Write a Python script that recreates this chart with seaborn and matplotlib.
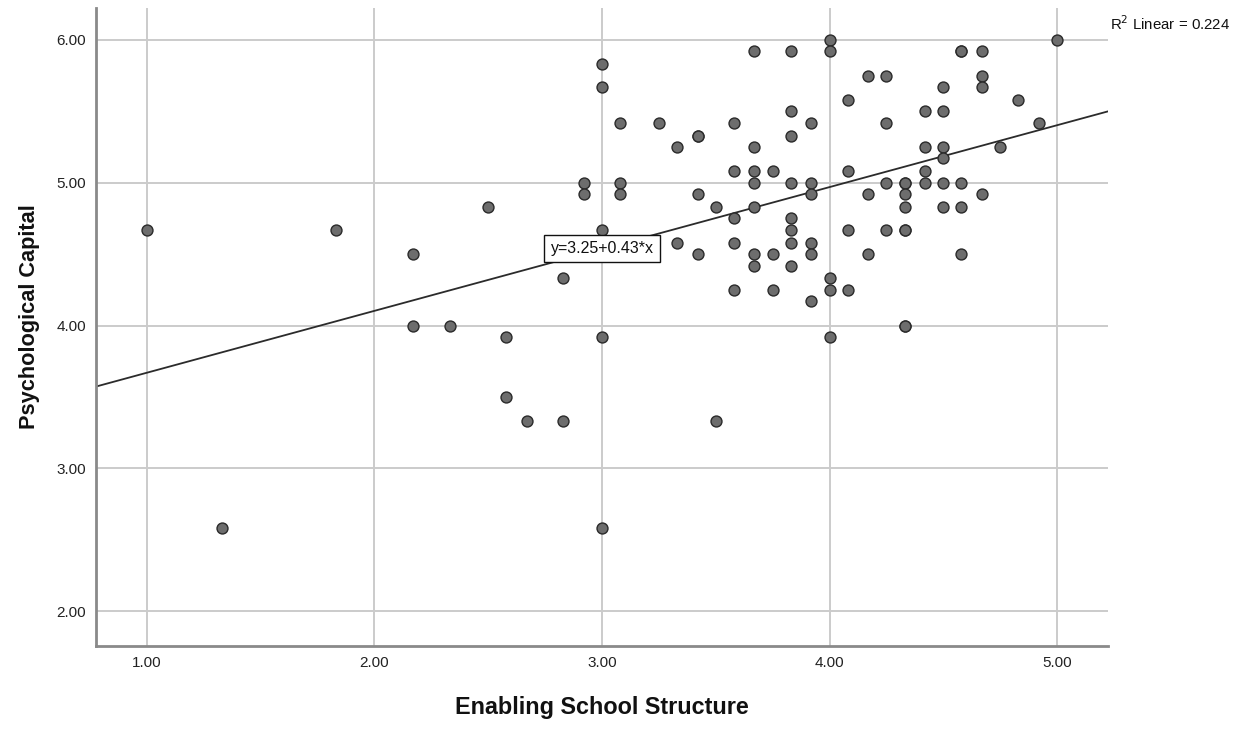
import numpy as np
import pandas as pd
import matplotlib
matplotlib.use("Agg")
import matplotlib.pyplot as plt
import seaborn as sns

# Enabling School Structure (x) and Psychological Capital (y)
ess = [1.00, 1.33, 1.83, 2.17, 2.17, 2.33, 2.50, 2.58, 2.58, 2.67, 2.83, 2.83,
       2.92, 2.92, 3.00, 3.00, 3.00, 3.00, 3.00, 3.08, 3.08, 3.08, 3.25, 3.33,
       3.33, 3.42, 3.42, 3.42, 3.42, 3.50, 3.50, 3.58, 3.58, 3.58, 3.58, 3.58,
       3.67, 3.67, 3.67, 3.67, 3.67, 3.67, 3.67, 3.75, 3.75, 3.75, 3.83, 3.83,
       3.83, 3.83, 3.83, 3.83, 3.83, 3.83, 3.92, 3.92, 3.92, 3.92, 3.92, 3.92,
       4.00, 4.00, 4.00, 4.00, 4.00, 4.08, 4.08, 4.08, 4.08, 4.17, 4.17, 4.17,
       4.25, 4.25, 4.25, 4.25, 4.33, 4.33, 4.33, 4.33, 4.33, 4.33, 4.33, 4.33,
       4.42, 4.42, 4.42, 4.42, 4.50, 4.50, 4.50, 4.50, 4.50, 4.50, 4.58, 4.58,
       4.58, 4.58, 4.58, 4.67, 4.67, 4.67, 4.67, 4.75, 4.83, 4.92, 5.00]
psycap = [4.67, 2.58, 4.67, 4.50, 4.00, 4.00, 4.83, 3.92, 3.50, 3.33, 4.33, 3.33,
          5.00, 4.92, 5.83, 5.67, 4.67, 3.92, 2.58, 5.42, 5.00, 4.92, 5.42, 5.25,
          4.58, 5.33, 5.33, 4.92, 4.50, 4.83, 3.33, 5.42, 5.08, 4.75, 4.58, 4.25,
          5.92, 5.25, 5.08, 5.00, 4.83, 4.50, 4.42, 5.08, 4.50, 4.25, 5.92, 5.50,
          5.33, 5.00, 4.75, 4.67, 4.58, 4.42, 5.42, 5.00, 4.92, 4.58, 4.50, 4.17,
          6.00, 5.92, 4.33, 4.25, 3.92, 5.58, 5.08, 4.67, 4.25, 5.75, 4.92, 4.50,
          5.75, 5.42, 5.00, 4.67, 5.00, 5.00, 4.92, 4.83, 4.67, 4.67, 4.00, 4.00,
          5.50, 5.25, 5.08, 5.00, 5.67, 5.50, 5.25, 5.17, 5.00, 4.83, 5.92, 5.92,
          5.00, 4.83, 4.50, 5.92, 5.75, 5.67, 4.92, 5.25, 5.58, 5.42, 6.00]

x_ticks = [1.0, 2.0, 3.0, 4.0, 5.0]
y_ticks = [2.0, 3.0, 4.0, 5.0, 6.0]
fit_label = "y=3.25+0.43*x"
r2_label = "R$^2$ Linear = 0.224"
intercept, slope = 3.25, 0.43

df = pd.DataFrame({"Enabling School Structure": ess, "Psychological Capital": psycap})

sns.set_theme(style="white")
plt.rcParams["font.family"] = ["Liberation Sans", "DejaVu Sans"]

fig = plt.figure(figsize=(12.41, 7.29), dpi=100)
ax = fig.add_axes([96 / 1241, 83 / 729, 1012 / 1241, 638 / 729])

ax.set_xlim(0.776, 5.224)
ax.set_ylim(1.755, 6.224)

ax.grid(True, color="#cbcbcb", linewidth=1.4, zorder=0)
ax.set_axisbelow(True)

sns.regplot(data=df, x="Enabling School Structure", y="Psychological Capital",
            scatter=False, ci=None, truncate=False, ax=ax,
            line_kws=dict(color="#2b2b2b", linewidth=1.3, zorder=2))

sns.scatterplot(data=df, x="Enabling School Structure", y="Psychological Capital",
                ax=ax, s=62, color="#6d6d6d", edgecolor="#2a2a2a", linewidth=1.0,
                zorder=3)

ax.set_xlim(0.776, 5.224)
ax.set_ylim(1.755, 6.224)

ax.set_xticks(x_ticks)
ax.set_yticks(y_ticks)
ax.set_xticklabels([f"{v:.2f}" for v in x_ticks], fontsize=11, color="#222222")
ax.set_yticklabels([f"{v:.2f}" for v in y_ticks], fontsize=11, color="#222222")
ax.tick_params(axis="both", length=0)
ax.tick_params(axis="x", pad=7)
ax.tick_params(axis="y", pad=7)

for side in ["top", "right"]:
    ax.spines[side].set_visible(False)
for side in ["left", "bottom"]:
    ax.spines[side].set_color("#8a8a8a")
    ax.spines[side].set_linewidth(2.0)

ax.set_xlabel("Enabling School Structure", fontsize=16.8, fontweight="bold",
              color="#111111", labelpad=19)
ax.set_ylabel("Psychological Capital", fontsize=15.7, fontweight="bold",
              color="#111111", labelpad=12)
ax.yaxis.label.set_y(0.5165)

ax.text(3.0, intercept + slope * 3.0, fit_label, ha="center", va="center",
        fontsize=11.5, color="#111111", zorder=4,
        bbox=dict(boxstyle="square,pad=0.4", facecolor="white",
                  edgecolor="#111111", linewidth=1.0))

fig.text(1110 / 1241, 1 - 24 / 729, r2_label, ha="left", va="center",
         fontsize=10.8, color="#111111")

fig.savefig("out.png", dpi=100, facecolor="white")
